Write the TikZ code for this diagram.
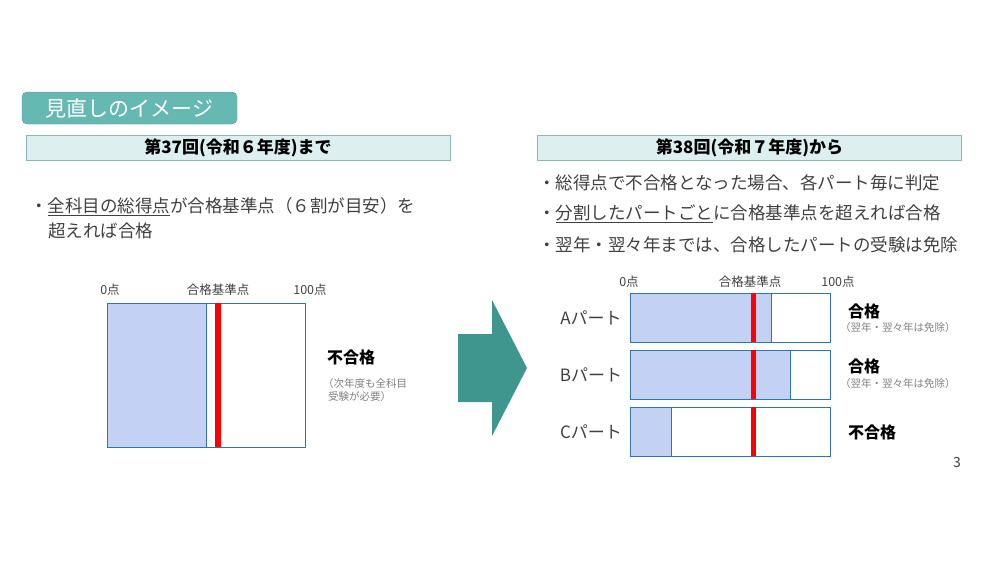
\documentclass[tikz,border=0pt]{standalone}
\usepackage{fontspec}
\setmainfont{Noto Sans CJK JP}
\usetikzlibrary{positioning}
\definecolor{tealbox}{HTML}{66B8B3}
\definecolor{tealarrow}{HTML}{3E968E}
\definecolor{headfill}{HTML}{DDF0EF}
\definecolor{headline}{HTML}{8CB8B4}
\definecolor{barline}{HTML}{2E75B6}
\definecolor{barfill}{HTML}{C3D1F4}
\definecolor{txt}{HTML}{404040}
\tikzset{
  head/.style={draw=headline, line width=1pt, fill=headfill, minimum width=424pt, minimum height=25pt, inner sep=0pt, font=\fontsize{17}{17}\selectfont\bfseries, text=black},
  bullet/.style={anchor=west, font=\fontsize{17.5}{20}\selectfont, text=txt, inner sep=0pt},
  scale lbl/.style={font=\fontsize{12.5}{12.5}\selectfont, text=txt},
  result/.style={anchor=west, font=\fontsize{16}{16}\selectfont\bfseries, text=black, inner sep=0pt},
  note/.style={anchor=west, font=\fontsize{10.5}{13}\selectfont, text=gray, inner sep=0pt, align=left},
}
\begin{document}
\begin{tikzpicture}[x=1pt, y=-1pt]
\useasboundingbox (0,0) rectangle (1000,560);
% title
\node[fill=tealbox, draw=tealbox!80!black, rounded corners=5pt, minimum width=215pt, minimum height=32pt, text=white, font=\fontsize{21}{21}\selectfont] (title) at (129.5,108) {見直しのイメージ};
% headers
\node[head] (headL) at (238,147.5) {第37回(令和６年度)まで};
\node[head] (headR) at (749.5,147.5) {第38回(令和７年度)から};
% left text
\node[bullet] (bulL1) at (30,207) {・\underline{全科目の総得点}が合格基準点（６割が目安）を};
\node[bullet] (bulL2) at (48,231) {超えれば合格};
% left chart
\node[scale lbl] (zeroL) at (110,290) {0点};
\node[scale lbl] (passL) at (218,290) {合格基準点};
\node[scale lbl] (fullL) at (310,290) {100点};
\draw[barline, fill=barfill] (107,303) rectangle (206,447);
\draw[barline] (107,303) rectangle (305,447);
\fill[red] (215,303) rectangle (221,447);
\node[result] (failL) at (327,357) {不合格};
\node[note] (noteL) at (323,390) {（次年度も全科目\\\hspace{5pt}受験が必要）};
% arrow
\fill[tealarrow] (458,334) -- (492,334) -- (492,300) -- (527,368) -- (492,436) -- (492,402) -- (458,402) -- cycle;
% right text
\node[bullet] (bulR1) at (538,183) {・総得点で不合格となった場合、各パート毎に判定};
\node[bullet] (bulR2) at (538,214) {・\underline{分割したパートごと}に合格基準点を超えれば合格};
\node[bullet] (bulR3) at (538,245) {・翌年・翌々年までは、合格したパートの受験は免除};
% right chart
\node[scale lbl] (zeroR) at (629,282) {0点};
\node[scale lbl] (passR) at (750,282) {合格基準点};
\node[scale lbl] (fullR) at (838,282) {100点};
\foreach \p/\y/\s in {A/293/771, B/350/790, C/407/671} {
  \draw[barline, fill=barfill] (630,\y) rectangle (\s,\y+49);
  \draw[barline] (630,\y) rectangle (830,\y+49);
  \fill[red] (751,\y) rectangle (756,\y+49);
  \node[font=\fontsize{17}{17}\selectfont, text=txt] (part\p) at (591,\y+25) {\p パート};
}
\node[result] (passA) at (848,311) {合格};
\node[note] (noteA) at (840,328) {（翌年・翌々年は免除）};
\node[result] (passB) at (848,366) {合格};
\node[note] (noteB) at (840,384) {（翌年・翌々年は免除）};
\node[result] (failC) at (848,432) {不合格};
\node[font=\fontsize{14}{14}\selectfont, text=txt] (page) at (957,462) {3};
\end{tikzpicture}
\end{document}
